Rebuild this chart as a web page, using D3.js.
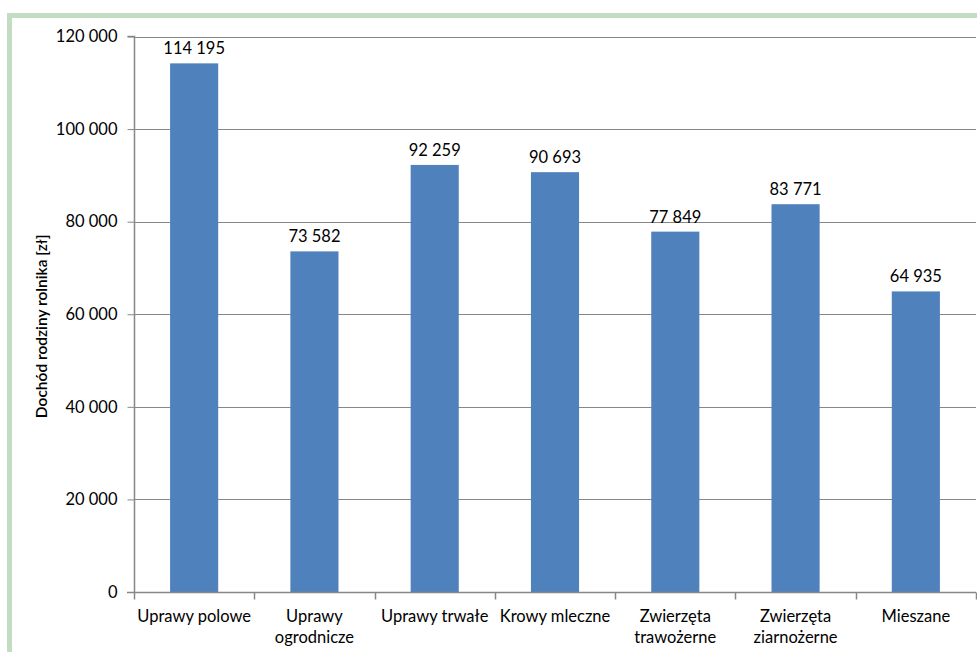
<!DOCTYPE html>
<html><head><meta charset="utf-8">
<script src="https://cdn.jsdelivr.net/npm/d3@7"></script>
<style>body{margin:0;background:#fff;overflow:hidden}svg{display:block}text{font-family:Lato,"Open Sans",sans-serif;fill:#000}</style>
</head><body><svg id="c" width="977" height="652"></svg>
<script>
const categories = [["Uprawy polowe"],["Uprawy","ogrodnicze"],["Uprawy trwałe"],["Krowy mleczne"],["Zwierzęta","trawożerne"],["Zwierzęta","ziarnożerne"],["Mieszane"]];
const values = [114195, 73582, 92259, 90693, 77849, 83771, 64935];
const yTicks = [0, 20000, 40000, 60000, 80000, 100000, 120000];
const yTitle = "Dochód rodziny rolnika [zł]";

const svg = d3.select("#c");
const fmt = v => d3.format(",")(v).replace(/,/g, " ");
// outer green frame
svg.append("rect").attr("x", 9.5).attr("y", 15.5).attr("width", 1200).attr("height", 1000)
  .attr("fill", "none").attr("stroke", "#c3ddc3").attr("stroke-width", 5);

const pL = 134, pR = 976, pT = 36.5, pB = 592;
const x = d3.scaleBand().domain(d3.range(categories.length)).range([pL, pR]).paddingInner(0.6).paddingOuter(0.3);
const xb = d3.scaleBand().domain(d3.range(categories.length)).range([pL, pR]);
const y = d3.scaleLinear().domain([0, 120000]).range([pB, pT]);

// gridlines
svg.append("g").selectAll("line").data(yTicks.filter(d => d > 0)).join("line")
  .attr("x1", pL).attr("x2", pR).attr("y1", d => Math.round(y(d)) + 0.5).attr("y2", d => Math.round(y(d)) + 0.5)
  .attr("stroke", "#878787").attr("stroke-width", 1);

// bars
svg.append("g").selectAll("rect").data(values).join("rect")
  .attr("x", (d, i) => x(i)).attr("width", x.bandwidth())
  .attr("y", d => y(d)).attr("height", d => pB - y(d)).attr("fill", "#4f81bd");

// value labels
svg.append("g").selectAll("text").data(values).join("text")
  .attr("x", (d, i) => x(i) + x.bandwidth() / 2).attr("y", d => y(d) - 9)
  .attr("text-anchor", "middle").attr("font-size", 16.5).text(d => fmt(d));

// y axis
const ya = d3.axisLeft(y).tickValues(yTicks).tickSize(7).tickPadding(10).tickFormat(fmt);
const gy = svg.append("g").attr("transform", `translate(${pL + 0.5},0)`).call(ya);
gy.select(".domain").attr("stroke", "#878787").attr("stroke-width", 1.5).attr("d", `M-7,${pT}H0V${pB}`);
gy.selectAll(".tick line").attr("stroke", "#878787");
gy.selectAll(".tick text").attr("font-size", 16.5).attr("font-family", "Lato").attr("fill", "#000");

// x axis
const gx = svg.append("g").attr("transform", `translate(0,${pB + 0.5})`);
gx.append("line").attr("x1", pL - 7).attr("x2", pR).attr("stroke", "#878787").attr("stroke-width", 1.5);
gx.selectAll(".tk").data(d3.range(categories.length + 1)).join("line").attr("class", "tk")
  .attr("x1", i => Math.round(pL + i * xb.step()) + 0.5).attr("x2", i => Math.round(pL + i * xb.step()) + 0.5)
  .attr("y1", 0).attr("y2", 7).attr("stroke", "#878787").attr("stroke-width", 1.5);
gx.selectAll("text").data(categories).join("text")
  .attr("text-anchor", "middle").attr("font-size", 16.5)
  .attr("transform", (d, i) => `translate(${xb(i) + xb.bandwidth() / 2},0)`)
  .selectAll("tspan").data(d => d).join("tspan")
  .attr("x", 0).attr("y", (d, j) => 29 + j * 21).text(d => d);

// y title
svg.append("text").attr("transform", `translate(47,${(pT + pB) / 2 + 12}) rotate(-90)`)
  .attr("text-anchor", "middle").attr("font-size", 15.5).attr("font-weight", 600).text(yTitle);
</script></body></html>
